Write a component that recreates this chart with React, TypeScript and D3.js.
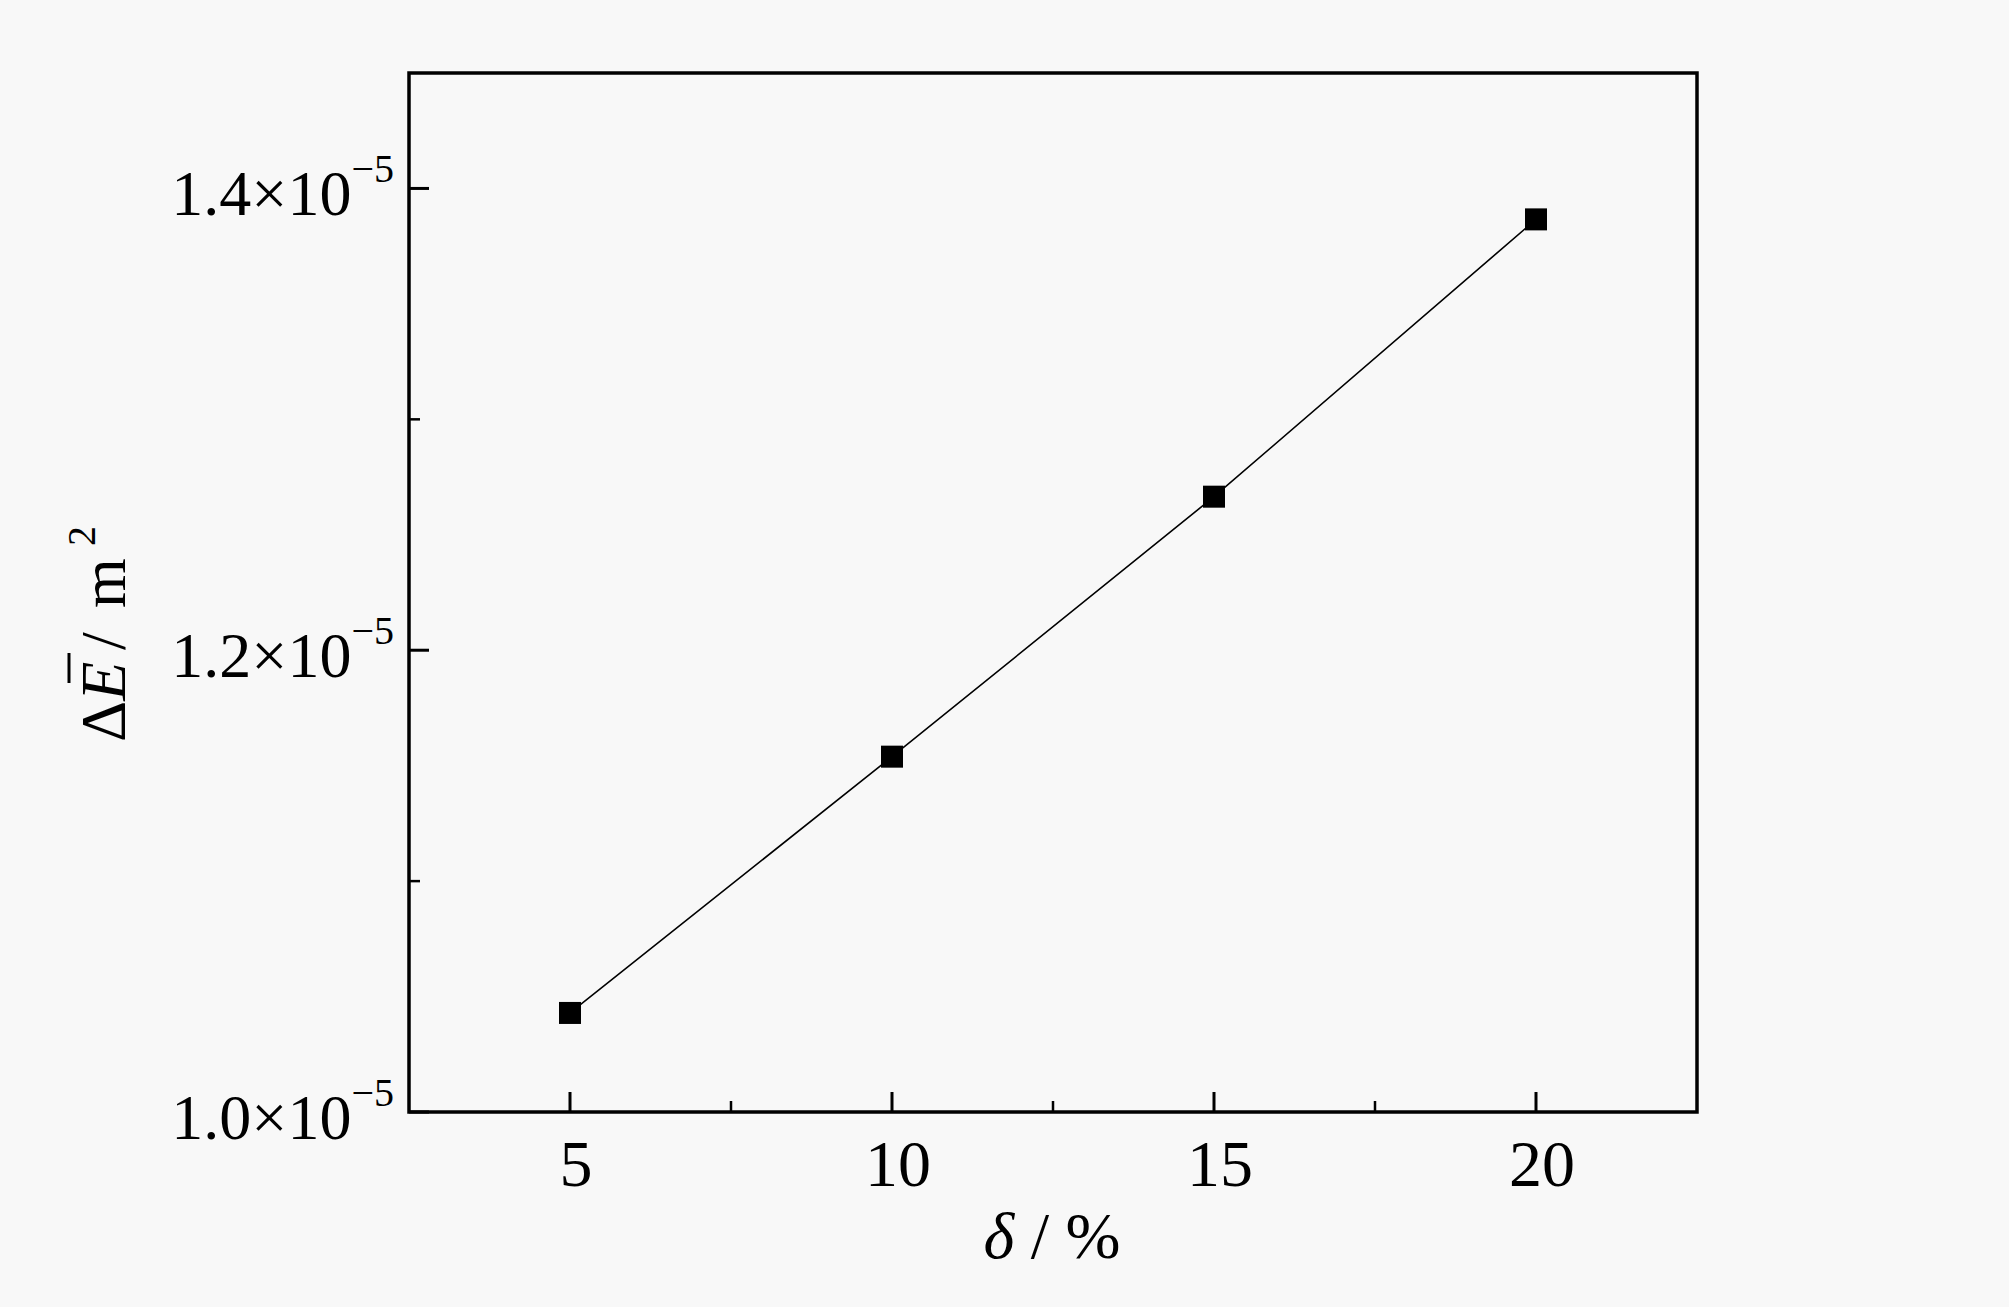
import { scaleLinear, line as d3line } from "d3";

// data
const deltaPct = [5, 10, 15, 20];
const deltaE = [1.0429e-5, 1.1539e-5, 1.2665e-5, 1.3866e-5];

const xMajorTicks = [5, 10, 15, 20];
const xMinorTicks = [7.5, 12.5, 17.5];
const yMajorTicks = [1.0e-5, 1.2e-5, 1.4e-5];
const yMajorLabels = ["1.0", "1.2", "1.4"];
const yMinorTicks = [1.1e-5, 1.3e-5];

const W = 2009;
const H = 1307;
const plot = { left: 409, right: 1697, top: 73, bottom: 1112 };
const font = "'Liberation Serif', 'Times New Roman', serif";

export default function App() {
  const x = scaleLinear().domain([2.5, 22.5]).range([plot.left, plot.right]);
  const y = scaleLinear().domain([1.0e-5, 1.45e-5]).range([plot.bottom, plot.top]);

  const pts = deltaPct.map((d, i) => ({ x: d, v: deltaE[i] }));
  const path =
    d3line<{ x: number; v: number }>()
      .x((d) => x(d.x))
      .y((d) => y(d.v))(pts) ?? undefined;

  const ms = 22;
  const majorLen = 20;
  const minorLen = 11;

  return (
    <svg
      width={W}
      height={H}
      viewBox={`0 0 ${W} ${H}`}
      style={{ position: "absolute", left: 0, top: 0, display: "block" }}
      fontFamily={font}
    >
      <rect x={0} y={0} width={W} height={H} fill="#f8f8f8" />

      {/* ticks, pointing inward */}
      {xMajorTicks.map((t) => (
        <line key={"xM" + t} x1={x(t)} x2={x(t)} y1={plot.bottom} y2={plot.bottom - majorLen} stroke="#000" strokeWidth={3} />
      ))}
      {xMinorTicks.map((t) => (
        <line key={"xm" + t} x1={x(t)} x2={x(t)} y1={plot.bottom} y2={plot.bottom - minorLen} stroke="#000" strokeWidth={2.5} />
      ))}
      {yMajorTicks.map((t) => (
        <line key={"yM" + t} x1={plot.left} x2={plot.left + majorLen} y1={y(t)} y2={y(t)} stroke="#000" strokeWidth={3} />
      ))}
      {yMinorTicks.map((t) => (
        <line key={"ym" + t} x1={plot.left} x2={plot.left + minorLen} y1={y(t)} y2={y(t)} stroke="#000" strokeWidth={2.5} />
      ))}

      {/* frame */}
      <rect
        x={plot.left}
        y={plot.top}
        width={plot.right - plot.left}
        height={plot.bottom - plot.top}
        fill="none"
        stroke="#000"
        strokeWidth={3.5}
      />

      {/* series */}
      <path d={path} fill="none" stroke="#000" strokeWidth={1.6} />
      {pts.map((d) => (
        <rect key={d.x} x={x(d.x) - ms / 2} y={y(d.v) - ms / 2} width={ms} height={ms} fill="#000" />
      ))}

      {/* x tick labels */}
      {xMajorTicks.map((t) => (
        <text key={"xl" + t} x={x(t) + 6} y={1186} textAnchor="middle" fontSize={66} fill="#000">
          {t}
        </text>
      ))}

      {/* y tick labels, mantissa with superscript exponent in one text */}
      {yMajorTicks.map((t, i) => (
        <text key={"yl" + t} x={394} y={y(t) + 27} textAnchor="end" fontSize={64} fill="#000">
          <tspan>{yMajorLabels[i] + "×10"}</tspan>
          <tspan dy={-33} fontSize={40}>−5</tspan>
        </text>
      ))}

      {/* x title */}
      <text x={1052} y={1258} textAnchor="middle" fontSize={66} fill="#000">
        <tspan fontStyle="italic">δ</tspan>
        <tspan> / %</tspan>
      </text>

      {/* y title */}
      <g transform="translate(125,634) rotate(-90)">
        <text x={-108} y={0} fontSize={64} fill="#000">
          <tspan>Δ</tspan>
          <tspan fontStyle="italic">E</tspan>
          <tspan x={-16}>/</tspan>
          <tspan x={26}>m</tspan>
          <tspan x={88} dy={-30} fontSize={40}>2</tspan>
        </text>
        <line x1={-49} x2={-19} y1={-56} y2={-56} stroke="#000" strokeWidth={3} />
      </g>
    </svg>
  );
}
